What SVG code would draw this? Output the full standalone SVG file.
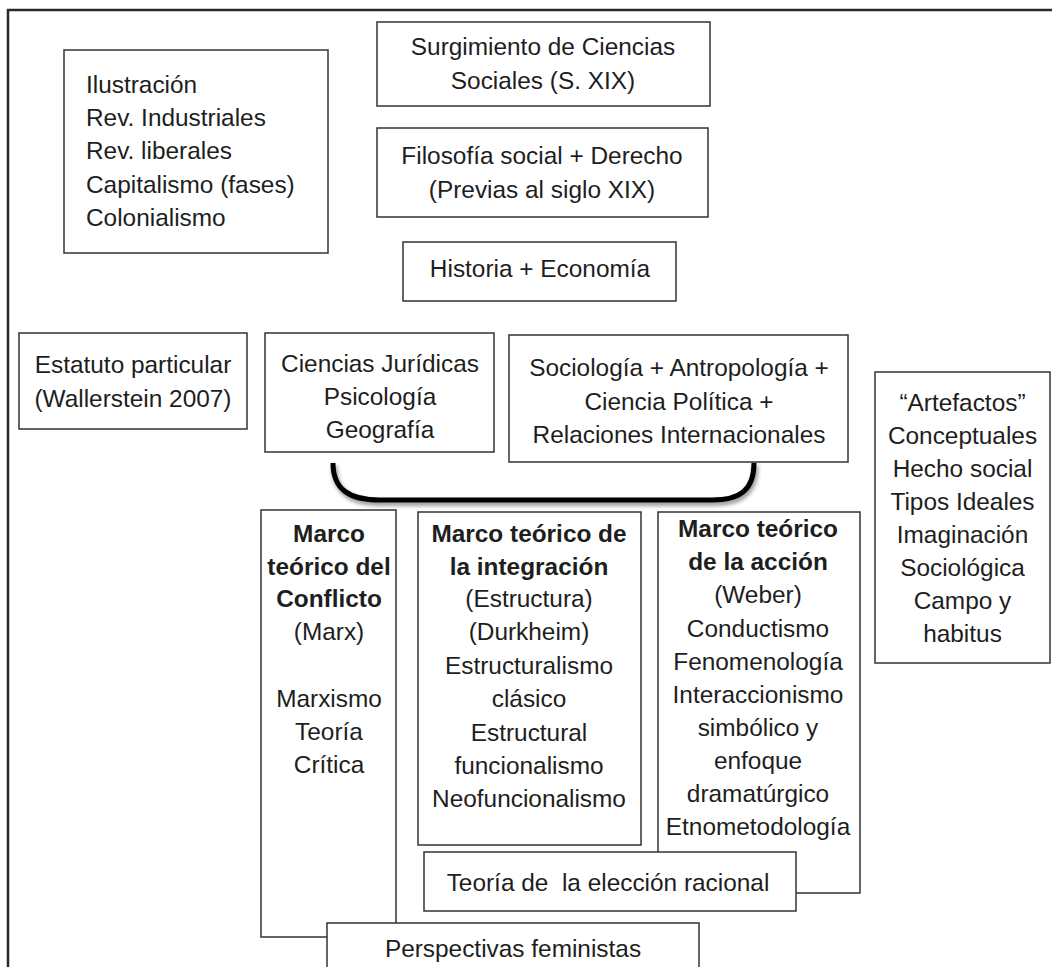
<svg xmlns="http://www.w3.org/2000/svg" width="1052" height="967" viewBox="0 0 1052 967">
<defs>
<style>
.box{fill:#fff;stroke:#333;stroke-width:1.5}
.t{font-family:"Liberation Sans",Arial,sans-serif;font-size:24.4px;fill:#1e1e1e}
.c{text-anchor:middle}
.b{font-weight:bold}
.frame{fill:none;stroke:#2a2a2a;stroke-width:2.5}
</style>
<filter id="sh" x="-10%" y="-30%" width="120%" height="180%">
<feDropShadow dx="1.5" dy="3" stdDeviation="2" flood-color="#000" flood-opacity="0.45"/>
</filter>
</defs>
<rect width="1052" height="967" fill="#fff"/>
<path class="frame" d="M8,967 L8,10 L1052,10"/>

<g id="contexto">
<rect class="box" x="64" y="50" width="264" height="203"/>
<text class="t" x="86" y="93">Ilustración</text>
<text class="t" x="86" y="126">Rev. Industriales</text>
<text class="t" x="86" y="159">Rev. liberales</text>
<text class="t" x="86" y="193">Capitalismo (fases)</text>
<text class="t" x="86" y="226">Colonialismo</text>
</g>

<g id="surgimiento">
<rect class="box" x="377" y="22" width="333" height="84"/>
<text class="t c" x="543" y="55">Surgimiento de Ciencias</text>
<text class="t c" x="543" y="89">Sociales (S. XIX)</text>
</g>

<g id="filosofia">
<rect class="box" x="377" y="128" width="331" height="89"/>
<text class="t c" x="542" y="164">Filosofía social + Derecho</text>
<text class="t c" x="542" y="198">(Previas al siglo XIX)</text>
</g>

<g id="historia">
<rect class="box" x="403" y="242" width="273" height="59"/>
<text class="t c" x="540" y="277">Historia + Economía</text>
</g>

<g id="estatuto">
<rect class="box" x="19" y="333" width="228" height="96"/>
<text class="t c" x="133" y="373">Estatuto particular</text>
<text class="t c" x="133" y="407">(Wallerstein 2007)</text>
</g>

<g id="ciencias">
<rect class="box" x="265" y="333" width="229" height="119"/>
<text class="t c" x="380" y="372">Ciencias Jurídicas</text>
<text class="t c" x="380" y="405">Psicología</text>
<text class="t c" x="380" y="438">Geografía</text>
</g>

<g id="sociologia">
<rect class="box" x="509" y="335" width="339" height="127"/>
<text class="t c" x="679" y="376">Sociología + Antropología +</text>
<text class="t c" x="679" y="409.5">Ciencia Política +</text>
<text class="t c" x="679" y="443">Relaciones Internacionales</text>
</g>

<g id="artefactos">
<rect class="box" x="875" y="372" width="175" height="291"/>
<text class="t c" x="962.5" y="411">“Artefactos”</text>
<text class="t c" x="962.5" y="444">Conceptuales</text>
<text class="t c" x="962.5" y="477">Hecho social</text>
<text class="t c" x="962.5" y="510">Tipos Ideales</text>
<text class="t c" x="962.5" y="543">Imaginación</text>
<text class="t c" x="962.5" y="576">Sociológica</text>
<text class="t c" x="962.5" y="609">Campo y</text>
<text class="t c" x="962.5" y="642">habitus</text>
</g>

<g id="connectors">
<path d="M333,463 C333,490 350,500 380,500 L712,500 C740,500 754,490 754,463" fill="none" stroke="#000" stroke-width="5" filter="url(#sh)"/>
</g>

<g id="conflicto">
<rect class="box" x="261" y="510" width="135" height="427"/>
<text class="t c b" x="329" y="542">Marco</text>
<text class="t c b" x="329" y="575">teórico del</text>
<text class="t c b" x="329" y="607">Conflicto</text>
<text class="t c" x="329" y="640">(Marx)</text>
<text class="t c" x="329" y="707">Marxismo</text>
<text class="t c" x="329" y="740">Teoría</text>
<text class="t c" x="329" y="773">Crítica</text>
</g>

<g id="integracion">
<rect class="box" x="418" y="512" width="223" height="333"/>
<text class="t c b" x="529" y="542">Marco teórico de</text>
<text class="t c b" x="529" y="575">la integración</text>
<text class="t c" x="529" y="607">(Estructura)</text>
<text class="t c" x="529" y="640">(Durkheim)</text>
<text class="t c" x="529" y="674">Estructuralismo</text>
<text class="t c" x="529" y="707">clásico</text>
<text class="t c" x="529" y="741">Estructural</text>
<text class="t c" x="529" y="774">funcionalismo</text>
<text class="t c" x="529" y="807">Neofuncionalismo</text>
</g>

<g id="accion">
<rect class="box" x="658" y="512" width="202" height="381"/>
<text class="t c b" x="758" y="537">Marco teórico</text>
<text class="t c b" x="758" y="570">de la acción</text>
<text class="t c" x="758" y="603">(Weber)</text>
<text class="t c" x="758" y="637">Conductismo</text>
<text class="t c" x="758" y="670">Fenomenología</text>
<text class="t c" x="758" y="703">Interaccionismo</text>
<text class="t c" x="758" y="736">simbólico y</text>
<text class="t c" x="758" y="769">enfoque</text>
<text class="t c" x="758" y="802">dramatúrgico</text>
<text class="t c" x="758" y="835">Etnometodología</text>
</g>

<g id="eleccion">
<rect class="box" x="424" y="852" width="372" height="59"/>
<text class="t c" x="608" y="891" style="white-space:pre">Teoría de  la elección racional</text>
</g>

<g id="feministas">
<rect class="box" x="327" y="923" width="372" height="60"/>
<text class="t c" x="513" y="957">Perspectivas feministas</text>
</g>
</svg>
